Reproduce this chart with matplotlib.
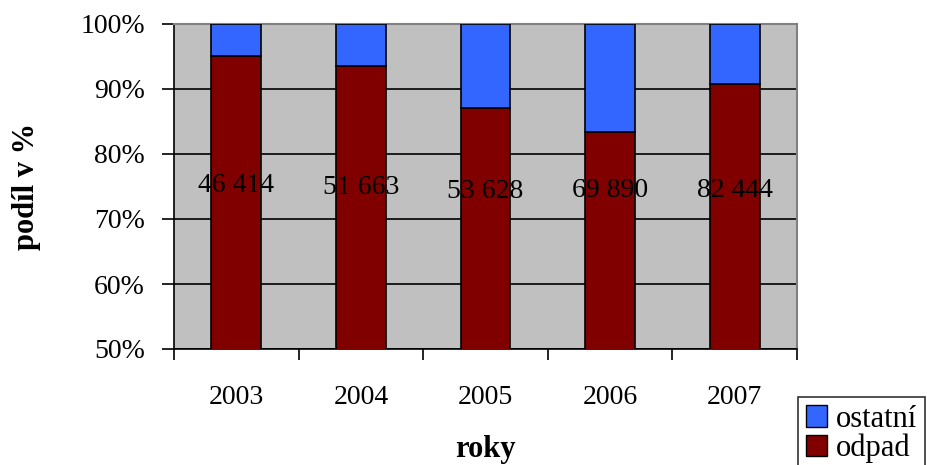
import matplotlib
matplotlib.use("Agg")
import matplotlib.pyplot as plt
import numpy as np
from matplotlib.patches import Patch

years = ["2003", "2004", "2005", "2006", "2007"]
odpad = [95.1, 93.5, 87.1, 83.4, 90.8]
ostatni = [100 - v for v in odpad]
labels = ["46 414", "51 663", "53 628", "69 890", "82 444"]
label_pos = [75.2, 74.9, 74.3, 74.4, 74.4]

plt.rcParams["font.family"] = ["Liberation Serif", "DejaVu Serif"]

fig = plt.figure(figsize=(9.28, 4.65), dpi=100)
ax = fig.add_axes([174 / 928, 1 - 349 / 465, 623 / 928, 325 / 465])
ax.set_facecolor("#c0c0c0")

x = np.arange(len(years))
ax.bar(x, odpad, width=0.4, color="#800000", edgecolor="black", linewidth=1.2, zorder=3)
ax.bar(x, ostatni, bottom=odpad, width=0.4, color="#3366ff", edgecolor="black", linewidth=1.2, zorder=3)

for xi, lab, yp in zip(x, labels, label_pos):
    ax.text(xi, yp, lab, ha="center", va="center", fontsize=20, zorder=4)

ax.set_xlim(-0.5, len(years) - 0.5)
ax.set_ylim(50, 100)
ax.set_yticks(range(50, 101, 10))
ax.set_yticklabels([f"{v}%" for v in range(50, 101, 10)], fontsize=20)
ax.yaxis.grid(True, color="black", linewidth=1.2, zorder=1)
ax.tick_params(axis="y", length=9, width=1.2, pad=12)

ax.set_xticks(x)
ax.set_xticklabels(years, fontsize=20)
ax.set_xticks(np.arange(-0.5, len(years)), minor=True)
ax.tick_params(axis="x", which="major", length=0, pad=26)
ax.tick_params(axis="x", which="minor", length=8, width=1.2)

for s in ["top", "right"]:
    ax.spines[s].set_color("#808080")
    ax.spines[s].set_linewidth(1.5)
for s in ["left", "bottom"]:
    ax.spines[s].set_color("black")
    ax.spines[s].set_linewidth(1.2)

ax.set_ylabel("podíl v %", fontsize=22, fontweight="bold", labelpad=28)
ax.set_xlabel("roky", fontsize=22, fontweight="bold", labelpad=18)

handles = [Patch(facecolor="#3366ff", edgecolor="black", label="ostatní"),
           Patch(facecolor="#800000", edgecolor="black", label="odpad")]
leg = fig.legend(handles=handles, loc="upper left", bbox_to_anchor=(798 / 928, 1 - 397 / 465),
                 fontsize=22, frameon=True, fancybox=False, edgecolor="black",
                 handlelength=0.7, handleheight=0.7, handletextpad=0.3,
                 borderpad=0.25, borderaxespad=0, labelspacing=0.0)
leg.get_frame().set_linewidth(1.2)

fig.savefig("out.png", dpi=100)
